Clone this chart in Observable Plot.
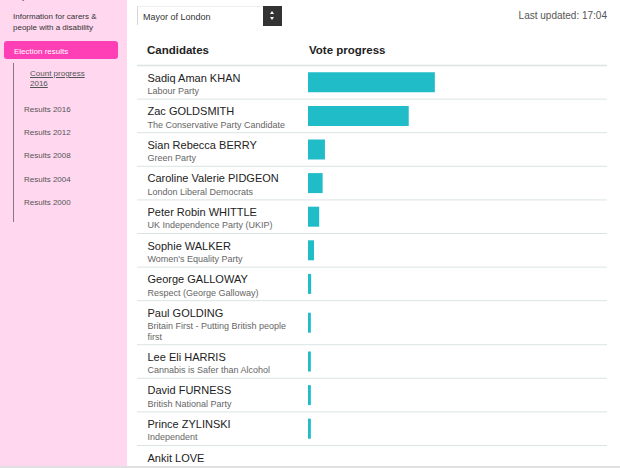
<!DOCTYPE html>
<html>
<head>
<meta charset="utf-8">
<script src="https://cdn.jsdelivr.net/npm/d3@7"></script>
<script src="https://cdn.jsdelivr.net/npm/@observablehq/plot@0.6"></script>
<style>
  html, body { margin: 0; padding: 0; background: #fff; }
  body { width: 620px; height: 468px; overflow: hidden; position: relative; font-family: "Liberation Sans", Arial, sans-serif; }
  .side { position: absolute; left: 0; top: 0; width: 127px; height: 468px; background: #ffd8ef; }
  .t { position: absolute; white-space: nowrap; font-size: 8px; line-height: 10px; color: #555; }
  .btn { position: absolute; left: 4px; top: 41px; width: 114px; height: 18px; background: #ff3fb5; border-radius: 3px; }
  .vline { position: absolute; left: 13px; top: 63px; width: 1px; height: 159px; background: #8c7580; }
  .select { position: absolute; left: 137px; top: 6px; width: 145px; height: 19px; background: #fff; border-left: 1px solid #d6d6d6; border-top: 1px solid #eee; box-sizing: border-box; }
  .select .lbl { position: absolute; left: 5px; top: 5px; font-size: 9px; line-height: 10px; color: #333; white-space: nowrap; }
  .select .arr { position: absolute; right: 0; top: -1px; width: 19px; height: 20px; background: #333; }
  .up { position: absolute; left: 7px; top: 5px; width: 0; height: 0; border-left: 2.5px solid transparent; border-right: 2.5px solid transparent; border-bottom: 3.5px solid #fff; }
  .dn { position: absolute; left: 7px; top: 10.5px; width: 0; height: 0; border-left: 2.5px solid transparent; border-right: 2.5px solid transparent; border-top: 3.5px solid #fff; }
  .upd { position: absolute; right: 13px; top: 10px; font-size: 10px; line-height: 11px; color: #555; white-space: nowrap; }
  .hd { position: absolute; top: 44px; font-size: 11.5px; line-height: 13px; font-weight: bold; color: #222; white-space: nowrap; }
  #chart { position: absolute; left: 137px; top: 60px; width: 470px; height: 408px; }
  .bottom { position: absolute; left: 0; top: 466px; width: 620px; height: 2px; background: #e0e0e0; z-index: 5; }
</style>
</head>
<body>
<div class="side"></div>
<div class="t" style="left:13px;top:-8px;color:#333">day</div>
<div class="t" style="left:13px;top:12px;color:#333">Information for carers &amp;</div>
<div class="t" style="left:13px;top:23px;color:#333">people with a disability</div>
<div class="btn"></div>
<div class="t" style="left:14px;top:46.5px;color:#fff">Election results</div>
<div class="vline"></div>
<div class="t" style="left:30px;top:69px;text-decoration:underline">Count progress</div>
<div class="t" style="left:30px;top:79px;text-decoration:underline">2016</div>
<div class="t" style="left:24px;top:104.8px">Results 2016</div>
<div class="t" style="left:24px;top:128.1px">Results 2012</div>
<div class="t" style="left:24px;top:151.4px">Results 2008</div>
<div class="t" style="left:24px;top:174.8px">Results 2004</div>
<div class="t" style="left:24px;top:198.1px">Results 2000</div>

<div class="select"><span class="lbl">Mayor of London</span><div class="arr"><div class="up"></div><div class="dn"></div></div></div>
<div class="upd">Last updated: 17:04</div>
<div class="hd" style="left:147px">Candidates</div>
<div class="hd" style="left:309px">Vote progress</div>
<div id="chart"></div>
<div class="bottom"></div>

<script>
// ---- data ----
const candidates = [
  "Sadiq Aman KHAN", "Zac GOLDSMITH", "Sian Rebecca BERRY", "Caroline Valerie PIDGEON",
  "Peter Robin WHITTLE", "Sophie WALKER", "George GALLOWAY", "Paul GOLDING",
  "Lee Eli HARRIS", "David FURNESS", "Prince ZYLINSKI", "Ankit LOVE"
];
const parties = [
  "Labour Party", "The Conservative Party Candidate", "Green Party", "London Liberal Democrats",
  "UK Independence Party (UKIP)", "Women's Equality Party", "Respect (George Galloway)",
  "Britain First - Putting British people first", "Cannabis is Safer than Alcohol",
  "British National Party", "Independent", "One Love Party"
];
// vote progress (% of total)
const progress = [44.2, 35.1, 5.9, 5.1, 3.9, 2.1, 1.1, 1.0, 1.0, 1.0, 1.0, 0];

// ---- wrap party labels to the candidate column width ----
const ctx = document.createElement("canvas").getContext("2d");
ctx.font = "9px 'Liberation Sans', Arial, sans-serif";
function wrap(s, w) {
  const words = s.split(" ");
  const lines = [];
  let cur = "";
  for (const wd of words) {
    const t = cur ? cur + " " + wd : wd;
    if (ctx.measureText(t).width > w && cur) { lines.push(cur); cur = wd; }
    else cur = t;
  }
  if (cur) lines.push(cur);
  return lines;
}

const ROW = 33.6, LINE = 10.4;
let acc = 0;
const rows = candidates.map((name, i) => {
  const lines = wrap(parties[i], 148);
  const h = ROW + LINE * (lines.length - 1);
  const r = {name, party: lines.join("\n"), value: progress[i], top: acc, bottom: acc + h, mid: acc + h / 2};
  acc += h;
  return r;
});

const chart = Plot.plot({
  width: 470,
  height: 408,
  margin: 0,
  x: {domain: [0, 100], range: [171, 458], axis: null},
  y: {domain: [0, 403], range: [5, 408], axis: null},
  style: {fontFamily: "'Liberation Sans', Arial, sans-serif", background: "#fff", overflow: "hidden"},
  marks: [
    Plot.ruleY([0], {stroke: "#dae3e3", strokeWidth: 1.5}),
    Plot.ruleY(rows, {y: "bottom", stroke: "#dbe4e4", strokeWidth: 1}),
    Plot.ruleY(rows, {y: "mid", x1: 0, x2: "value", stroke: "#20bdc9", strokeWidth: 20}),
    Plot.text(rows, {y: "top", text: "name", frameAnchor: "left", dx: 10, dy: 8.2, lineAnchor: "top", textAnchor: "start", fontSize: 11, fill: "#222"}),
    Plot.text(rows, {y: "top", text: "party", frameAnchor: "left", dx: 10, dy: 21.1, lineAnchor: "top", textAnchor: "start", fontSize: 9, fill: "#666", lineHeight: 1.156})
  ]
});
document.getElementById("chart").appendChild(chart);
</script>
</body>
</html>
